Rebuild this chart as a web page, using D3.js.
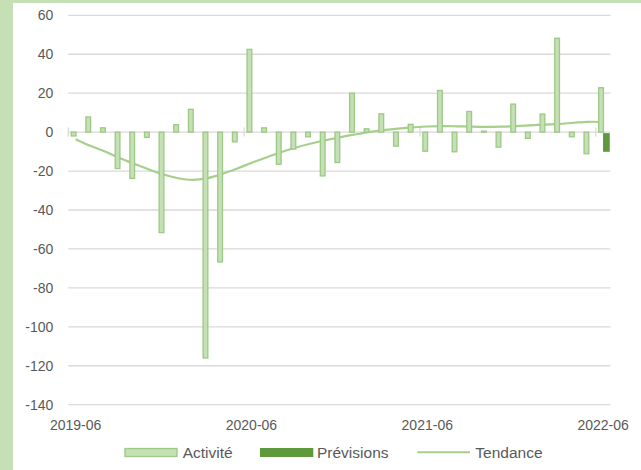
<!DOCTYPE html>
<html>
<head>
<meta charset="utf-8">
<script src="https://cdn.jsdelivr.net/npm/d3@7"></script>
<style>
  html, body { margin: 0; padding: 0; background: #ffffff; }
  svg { display: block; }
  text { font-family: "Liberation Sans", Arial, sans-serif; }
</style>
</head>
<body>
<svg id="chart" width="641" height="470"></svg>
<script>
// Monthly categories
const months = [
  "2019-06","2019-07","2019-08","2019-09","2019-10","2019-11","2019-12",
  "2020-01","2020-02","2020-03","2020-04","2020-05","2020-06","2020-07",
  "2020-08","2020-09","2020-10","2020-11","2020-12","2021-01","2021-02",
  "2021-03","2021-04","2021-05","2021-06","2021-07","2021-08","2021-09",
  "2021-10","2021-11","2021-12","2022-01","2022-02","2022-03","2022-04",
  "2022-05","2022-06"
];

// Observed activity (columns)
const activite = [
  -2, 7.8, 2.2, -18.7, -23.8, -2.7, -51.6, 3.8, 11.7, -116, -66.7, -5,
  42.5, 2.2, -16.5, -8.7, -2.4, -22.5, -15.6, 20, 1.7, 9.4, -7.2, 4,
  -9.8, 21.4, -10.1, 10.6, 0.5, -7.7, 14.4, -3.2, 9.3, 48.2, -2.4, -11.1, 22.8
];

// Forecast (only the last month)
const previsions = [
  null, null, null, null, null, null, null, null, null, null, null, null,
  null, null, null, null, null, null, null, null, null, null, null, null,
  null, null, null, null, null, null, null, null, null, null, null, null, -10.1
];

// Smoothed trend
const tendance = [
  -3.6, -7, -10, -13.3, -16.3, -19.2, -21.8, -23.7, -24.5, -23.6, -21.5, -18.8,
  -15.8, -13, -10.3, -8, -6, -4.3, -2.7, -1.3, 0, 1, 1.8, 2.4,
  2.9, 3.1, 3, 2.8, 2.7, 2.8, 3.1, 3.5, 3.9, 4.2, 4.8, 5.3, 5.2
];

const xTickLabels = ["2019-06", "2020-06", "2021-06", "2022-06"];
const yTicks = [60, 40, 20, 0, -20, -40, -60, -80, -100, -120, -140];
const seriesNames = ["Activité", "Prévisions"];

const colLight = "#c5e0b4";
const colLightStroke = "#9cc985";
const colDark = "#5e9a3b";
const colTrend = "#a6cf8c";
const colGrid = "#d9d9d9";
const colText = "#595959";

const svg = d3.select("#chart");

// Frame strips
svg.append("rect").attr("x", 0).attr("y", 0).attr("width", 13).attr("height", 470).attr("fill", colLight);
svg.append("rect").attr("x", 0).attr("y", 0).attr("width", 641).attr("height", 3).attr("fill", colLight);

const x = d3.scaleBand().domain(months).range([68.3, 610.4]).padding(0);
const bw = x.bandwidth();
const xs = d3.scaleBand().domain(seriesNames).range([0.16 * bw, 0.97 * bw]).padding(0);
const y = d3.scaleLinear().domain([-140, 60]).range([404.7, 15.3]);

// Horizontal gridlines
svg.append("g")
  .selectAll("line")
  .data(yTicks.filter(d => d !== 0))
  .join("line")
  .attr("x1", 68.3).attr("x2", 610.4)
  .attr("y1", d => y(d)).attr("y2", d => y(d))
  .attr("stroke", colGrid).attr("stroke-width", 1.3);

// Y axis labels (plain hyphen for negatives)
const yAxis = d3.axisLeft(y).tickValues(yTicks).tickFormat(d => String(d)).tickSize(0).tickPadding(15);
const gy = svg.append("g").attr("transform", "translate(68.3,0)").call(yAxis);
gy.select(".domain").remove();
gy.selectAll("text")
  .attr("font-family", "Liberation Sans, Arial, sans-serif")
  .attr("font-size", 14).attr("fill", colText);

// Zero axis with year ticks
svg.append("line")
  .attr("x1", 68.3).attr("x2", 610.4)
  .attr("y1", y(0)).attr("y2", y(0))
  .attr("stroke", colGrid).attr("stroke-width", 1.3);

svg.append("g")
  .selectAll("line")
  .data(xTickLabels)
  .join("line")
  .attr("x1", d => x(d)).attr("x2", d => x(d))
  .attr("y1", y(0) - 4.5).attr("y2", y(0) + 4.5)
  .attr("stroke", colGrid).attr("stroke-width", 1.3);

// X axis labels
const xAxis = d3.axisBottom(x).tickValues(xTickLabels).tickSize(0).tickPadding(0);
const gx = svg.append("g").attr("transform", "translate(0,420)").call(xAxis);
gx.select(".domain").remove();
gx.selectAll("text")
  .attr("font-family", "Liberation Sans, Arial, sans-serif")
  .attr("font-size", 14).attr("fill", colText)
  .attr("dy", "0.71em");

// Trend line
const line = d3.line()
  .x((d, i) => x(months[i]) + bw / 2)
  .y(d => y(d))
  .curve(d3.curveCatmullRom.alpha(0.5));
svg.append("path")
  .datum(tendance)
  .attr("d", line)
  .attr("fill", "none")
  .attr("stroke", colTrend)
  .attr("stroke-width", 2.2);

// Activity columns
svg.append("g")
  .selectAll("rect")
  .data(activite.map((v, i) => ({ m: months[i], v })))
  .join("rect")
  .attr("x", d => x(d.m) + xs("Activité") + 0.6)
  .attr("width", xs.bandwidth() - 1.2)
  .attr("y", d => y(Math.max(0, d.v)))
  .attr("height", d => Math.max(0.8, Math.abs(y(d.v) - y(0))))
  .attr("fill", colLight)
  .attr("stroke", colLightStroke)
  .attr("stroke-width", 1.3);

// Forecast columns
svg.append("g")
  .selectAll("rect")
  .data(previsions.map((v, i) => ({ m: months[i], v })).filter(d => d.v !== null))
  .join("rect")
  .attr("x", d => x(d.m) + xs("Prévisions") - 1)
  .attr("width", xs.bandwidth() + 0.8)
  .attr("y", d => y(Math.max(0, d.v)) + 1)
  .attr("height", d => Math.abs(y(d.v) - y(0)) - 1)
  .attr("fill", colDark);

// Legend
const lg = svg.append("g").attr("font-size", 15.5).attr("fill", colText);
lg.append("rect").attr("x", 125).attr("y", 448.5).attr("width", 52).attr("height", 8)
  .attr("fill", colLight).attr("stroke", colLightStroke).attr("stroke-width", 1.3);
lg.append("text").attr("x", 182.7).attr("y", 457.5).text("Activité");
lg.append("rect").attr("x", 260).attr("y", 448).attr("width", 53.3).attr("height", 9)
  .attr("fill", colDark);
lg.append("text").attr("x", 317).attr("y", 457.5).text("Prévisions");
lg.append("line").attr("x1", 417.3).attr("x2", 470).attr("y1", 452.3).attr("y2", 452.3)
  .attr("stroke", colTrend).attr("stroke-width", 2);
lg.append("text").attr("x", 475.3).attr("y", 457.5).text("Tendance");
</script>
</body>
</html>
